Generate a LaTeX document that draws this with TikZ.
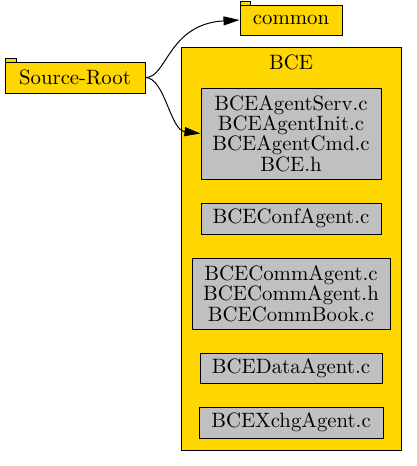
\documentclass[tikz,border=0pt]{standalone}
\usetikzlibrary{arrows.meta}
\newlength{\du}
\setlength{\du}{0.5pt}
\definecolor{folderfill}{rgb}{1.000000, 0.843137, 0.000000}
\definecolor{filefill}{rgb}{0.752941, 0.752941, 0.752941}
\newcommand{\dirfont}{\fontsize{10.4}{10.2}\selectfont}
\tikzset{
  folderbox/.style={draw=black, fill=folderfill, line width=1\du, inner sep=0pt, font=\dirfont},
  filebox/.style={draw=black, fill=filefill, line width=1\du, inner sep=0pt, align=center, font=\dirfont},
  foldertab/.style={draw=black, fill=folderfill, line width=1\du},
  deplink/.style={draw=black, line width=1\du, -{Triangle[length=8pt,width=4.5pt]}},
}
\begin{document}
\begin{tikzpicture}
\pgftransformxscale{1.000000}
\pgftransformyscale{-1.000000}
\useasboundingbox (0\du,0\du) rectangle (417\du,466\du);
% cluster BCE
\node[folderbox, minimum width=220\du, minimum height=403\du] (bce) at (291\du,248.5\du) {};
\node[font=\dirfont, inner sep=0pt] (bcetitle) at (291\du,62\du) {BCE};
% folders
\filldraw[foldertab] (5\du,58.5\du) rectangle (16\du,62\du);
\node[folderbox, minimum width=140\du, minimum height=31\du] (root) at (75\du,77.5\du) {Source-Root};
\filldraw[foldertab] (240\du,1.5\du) rectangle (250\du,5\du);
\node[folderbox, minimum width=102\du, minimum height=30\du] (common) at (291\du,20\du) {common};
% files
\node[filebox, minimum width=180\du, minimum height=91\du] (agentfiles) at (291\du,133.5\du) {BCEAgentServ.c\\BCEAgentInit.c\\BCEAgentCmd.c\\BCE.h};
\node[filebox, minimum width=180\du, minimum height=31\du] (confagent) at (291\du,218.5\du) {BCEConfAgent.c};
\node[filebox, minimum width=198\du, minimum height=71\du] (commfiles) at (291\du,293.5\du) {BCECommAgent.c\\BCECommAgent.h\\BCECommBook.c};
\node[filebox, minimum width=182\du, minimum height=30\du] (dataagent) at (291\du,368\du) {BCEDataAgent.c};
\node[filebox, minimum width=184\du, minimum height=31\du] (xchgagent) at (291\du,422.5\du) {BCEXchgAgent.c};
% links
\draw[deplink] (root.east) .. controls (167\du,78\du) and (168\du,24\du) .. (common.west);
\draw[deplink] (root.east) .. controls (165\du,78\du) and (170\du,130\du) .. (agentfiles.west);
\end{tikzpicture}
\end{document}
